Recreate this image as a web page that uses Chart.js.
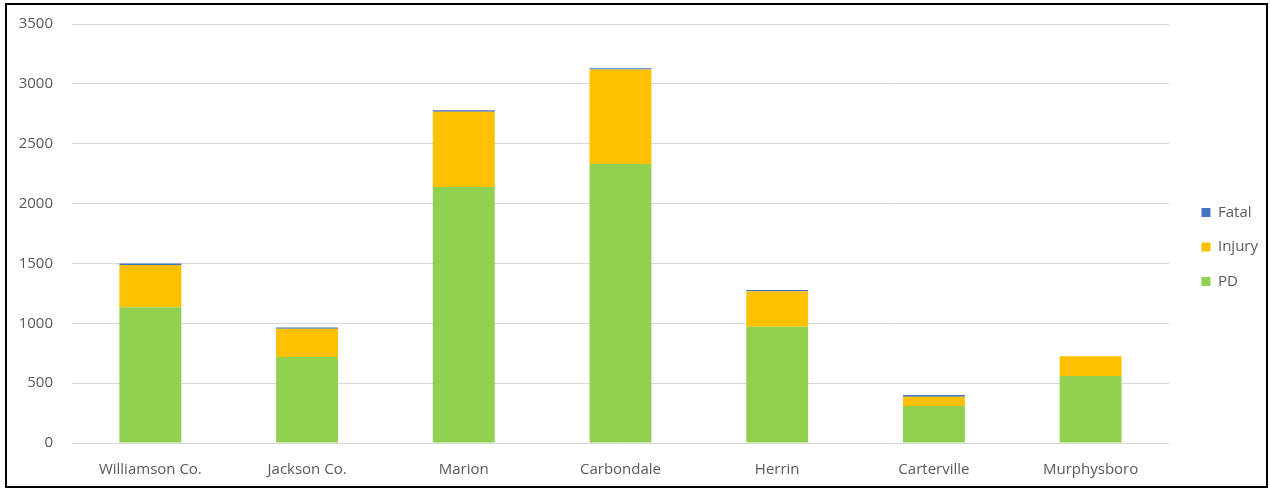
<!DOCTYPE html>
<html>
<head>
<meta charset="utf-8">
<script src="https://cdn.jsdelivr.net/npm/chart.js@4"></script>
<style>
  html, body { margin: 0; padding: 0; background: #fff; }
  #frame {
    position: absolute;
    left: 5px; top: 3px;
    width: 1263px; height: 485px;
    border: 2px solid #000;
    box-sizing: border-box;
  }
  #crashes { display: block; }
</style>
</head>
<body>
<div id="frame">
  <canvas id="crashes" width="1259" height="481"></canvas>
</div>
<script>
// crash counts by location, stacked by severity
const places = ["Williamson Co.", "Jackson Co.", "Marion", "Carbondale", "Herrin", "Carterville", "Murphysboro"];
const pdCrashes = [1133, 718, 2139, 2331, 972, 309, 560];
const injuryCrashes = [354, 237, 629, 788, 295, 78, 164];
const fatalCrashes = [12, 10, 12, 12, 11, 13, 0];
const yTicks = [0, 500, 1000, 1500, 2000, 2500, 3000, 3500];

const labelFont = { family: "'Open Sans', sans-serif", size: 15 };
const labelColor = "#595959";

function makeSet(label, data, color) {
  return {
    label: label,
    data: data,
    backgroundColor: color,
    borderWidth: 0,
    barPercentage: 0.395,
    categoryPercentage: 1,
    yAxisID: "y",
  };
}

const ctx = document.getElementById("crashes").getContext("2d");
new Chart(ctx, {
  type: "bar",
  data: {
    labels: places,
    datasets: [
      makeSet("PD", pdCrashes, "#92D050"),
      makeSet("Injury", injuryCrashes, "#FFC000"),
      makeSet("Fatal", fatalCrashes, "#4472C4"),
    ],
  },
  options: {
    responsive: false,
    animation: false,
    layout: { padding: { left: 10, right: -2, top: 3, bottom: 0 } },
    plugins: {
      tooltip: { enabled: false },
      legend: {
        position: "right",
        reverse: true,
        labels: {
          boxWidth: 9,
          boxHeight: 9,
          padding: 19.5,
          color: labelColor,
          font: labelFont,
        },
      },
    },
    scales: {
      x: {
        stacked: true,
        grid: { display: false, drawTicks: false },
        border: { display: false },
        ticks: { color: labelColor, font: labelFont, padding: 18 },
        afterFit: (axis) => {
          axis.height = 43;
        },
      },
      y: {
        stacked: true,
        min: 0,
        max: 3500,
        afterBuildTicks: (axis) => {
          axis.ticks = yTicks.map((v) => ({ value: v }));
        },
        afterFit: (axis) => {
          axis.width = 55;
          axis.paddingTop = 19;
          axis.paddingBottom = 10;
        },
        grid: { color: "#d9d9d9", drawTicks: false },
        border: { display: false },
        ticks: {
          color: labelColor,
          font: labelFont,
          padding: 19,
          callback: (v) => String(v),
        },
      },
      // empty spacer between the plot and the legend
      gap: {
        type: "linear",
        position: "right",
        display: true,
        grid: { display: false },
        border: { display: false },
        ticks: { display: false },
        afterFit: (axis) => {
          axis.width = 13;
        },
      },
    },
  },
});
</script>
</body>
</html>
